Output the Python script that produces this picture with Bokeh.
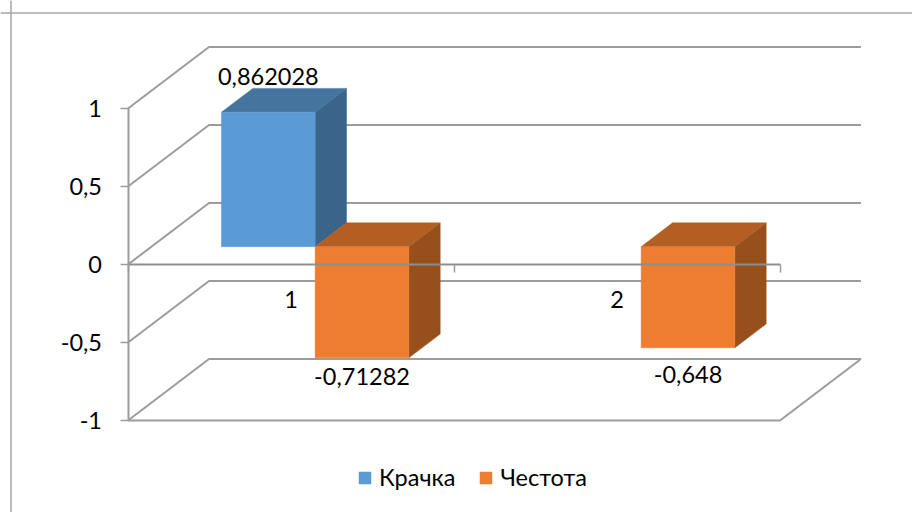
from bokeh.embed import file_html
from bokeh.models import (ColumnDataSource, FixedTicker, Legend, LegendItem, LinearAxis, Range1d, Span)
from bokeh.plotting import figure
from bokeh.resources import INLINE
from bokeh.core.properties import value

# ---- data ----
categories = [1, 2]
series_names = ["Крачка", "Честота"]
krachka = [0.862028, None]
chestota = [-0.71282, -0.648]
krachka_labels = ["0,862028", ""]
chestota_labels = ["-0,71282", "-0,648"]
y_ticks = [-1, -0.5, 0, 0.5, 1]
y_tick_labels = {-1: "-1", -0.5: "-0,5", 0: "0", 0.5: "0,5", 1: "1"}

# ---- layout (page pixels -> chart units) ----
W, H = 912, 512
X_UNIT, Y_UNIT = 326.0, 156.0
def ux(px): return (px - 127.5) / X_UNIT + 0.5
def uy(py): return (264.0 - py) / Y_UNIT

WALL_DX, WALL_DY = 81 / X_UNIT, 61.5 / Y_UNIT
BAR_W = 93.7 / X_UNIT
Z0, DEPTH = 0.29, 0.387
NUDGE = 0.002
FONT = "Lato"
FS = "23.5px"
GREY = "#9c9c9c"

COL = {
    0: ("#5B9BD5", "#3A6489", "#45759F"),
    1: ("#ED7D31", "#97501C", "#B35E22"),
}

p = figure(width=W, height=H, output_backend="svg", toolbar_location=None,
           x_range=Range1d(ux(0), ux(W)), y_range=Range1d(uy(H), uy(0)),
           x_axis_type=None, y_axis_type=None, min_border=0,
           outline_line_color=None)
p.grid.visible = False

# chart frame
p.add_layout(Span(location=ux(10.5), dimension="height", line_color="#a6a6a6", line_width=1.5))
p.add_layout(Span(location=uy(12.5), dimension="width", line_color="#a6a6a6", line_width=1.5))

# walls / gridlines in pseudo-depth
xl, xr = 0.5, 2.5
gx, gy = [], []
for t in y_ticks:
    gx.append([xl, xl + WALL_DX, xr + WALL_DX])
    gy.append([t, t + WALL_DY, t + WALL_DY])
gx.append([xl, xr, xr + WALL_DX])
gy.append([-1, -1, -1 + WALL_DY])
p.multi_line(gx, gy, line_color=GREY, line_width=2)

# bars
def draw_series(idx, vals, labels, label_offsets):
    front, side, top = COL[idx]
    base = Z0 * WALL_DY
    ddx, ddy = DEPTH * WALL_DX, DEPTH * WALL_DY
    cs = [c for c, v in zip(categories, vals) if v is not None]
    vs = [v for v in vals if v is not None]
    lefts = [c - BAR_W + Z0 * WALL_DX + NUDGE + idx * BAR_W for c in cs]
    rights = [l + BAR_W for l in lefts]
    tops = [base + max(v, 0) for v in vs]
    bots = [base + min(v, 0) for v in vs]
    p.patches([[r, r + ddx, r + ddx, r] for r in rights],
              [[b, b + ddy, t + ddy, t] for b, t in zip(bots, tops)],
              fill_color=side, line_color=side, line_width=0.5)
    p.patches([[l, l + ddx, r + ddx, r] for l, r in zip(lefts, rights)],
              [[t, t + ddy, t + ddy, t] for t in tops],
              fill_color=top, line_color=top, line_width=0.5)
    r = p.quad(left=lefts, right=rights, top=tops, bottom=bots,
               fill_color=front, line_color=front, line_width=0.5)
    src = ColumnDataSource(dict(
        x=[(l + a) / 2 for l, a in zip(lefts, rights)],
        y=[(t if v > 0 else b) for t, b, v in zip(tops, bots, vs)],
        t=[s for s in labels if s],
        o=label_offsets))
    p.text("x", "y", text="t", source=src, text_font=value(FONT), text_font_size=FS,
           text_align="center", text_baseline="middle", y_offset="o", text_color="#000000")
    return r

r0 = draw_series(0, krachka, krachka_labels, [-36])
r1 = draw_series(1, chestota, chestota_labels, [19, 27])

# axes
yax = LinearAxis(fixed_location=0.5, ticker=FixedTicker(ticks=y_ticks),
                 major_label_overrides=y_tick_labels, bounds=(-1, 1),
                 axis_line_color=GREY, axis_line_width=2, major_tick_line_color=GREY,
                 major_tick_line_width=1.5, major_tick_in=0, major_tick_out=8,
                 minor_tick_out=0, minor_tick_in=0, major_label_standoff=18,
                 major_label_text_font=FONT, major_label_text_font_size=FS,
                 major_label_text_color="#000000")
p.add_layout(yax, "left")
xax = LinearAxis(fixed_location=0, ticker=FixedTicker(ticks=categories, minor_ticks=[0.5, 1.5, 2.5]),
                 bounds=(0.5, 2.5), axis_line_color="#8e8e8e", axis_line_width=2,
                 major_tick_in=0, major_tick_out=0, minor_tick_in=0, minor_tick_out=8,
                 minor_tick_line_color=GREY, minor_tick_line_width=1.5,
                 major_label_standoff=18, major_label_text_font=FONT,
                 major_label_text_font_size=FS, major_label_text_color="#000000")
p.add_layout(xax, "below")

# legend
leg = Legend(items=[LegendItem(label=series_names[0], renderers=[r0]),
                    LegendItem(label=series_names[1], renderers=[r1])],
             orientation="horizontal", location=(357, 21), padding=0, margin=0,
             spacing=23, glyph_width=15, glyph_height=15, label_standoff=7,
             label_text_font=FONT, label_text_font_size="23.5px", label_text_color="#000000",
             label_height=15, border_line_color=None, background_fill_alpha=0)
p.add_layout(leg)

open("out.html", "w").write(file_html(p, INLINE))
